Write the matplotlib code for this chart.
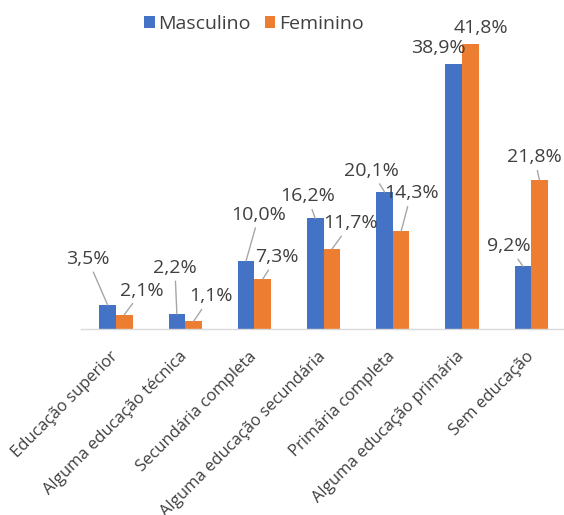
import matplotlib
matplotlib.use("Agg")
import matplotlib.pyplot as plt
import numpy as np

plt.rcParams['font.family'] = ['Open Sans', 'DejaVu Sans']

categories = [
    "Educação superior",
    "Alguma educação técnica",
    "Secundária completa",
    "Alguma educação secundária",
    "Primária completa",
    "Alguma educação primária",
    "Sem educação",
]
masculino = [3.5, 2.2, 10.0, 16.2, 20.1, 38.9, 9.2]
feminino = [2.1, 1.1, 7.3, 11.7, 14.3, 41.8, 21.8]
series_names = ["Masculino", "Feminino"]

# label placement (pixel offsets from the top of each bar) and leader-line flags
masc_offsets = [(-20, 46), (-2, 46), (13, 46), (-8, 22), (-13, 21), (-15, 16), (-14, 20)]
fem_offsets = [(18, 24), (17, 25), (14, 22), (19, 26), (10, 38), (11, 16), (-5, 23)]
masc_leader = [True, True, True, True, True, False, True]
fem_leader = [True, True, True, True, True, False, True]

BLUE = "#4472C4"
ORANGE = "#ED7D31"

fig = plt.figure(figsize=(5.64, 5.15), dpi=100)
ax = fig.add_axes([0.1443, 0.3612, 0.8589, 0.596])

x = np.arange(len(categories))
w = 0.24
b1 = ax.bar(x - w / 2, masculino, width=w, color=BLUE, label=series_names[0])
b2 = ax.bar(x + w / 2, feminino, width=w, color=ORANGE, label=series_names[1])

ax.set_xlim(-0.5, len(categories) - 0.5)
ax.set_ylim(0, 45)

for s in ["top", "right", "left"]:
    ax.spines[s].set_visible(False)
ax.spines["bottom"].set_color("#D9D9D9")
ax.spines["bottom"].set_linewidth(1.0)
ax.set_yticks([])
ax.set_xticks(x)
ax.set_xticklabels(categories, rotation=45, ha="right", va="center",
                   rotation_mode="anchor", fontsize=12, color="#404040")
ax.tick_params(axis="x", length=0, pad=18)


def fmt(v):
    return f"{v:.1f}%".replace(".", ",")


def label_bars(xs, vals, offsets, leaders):
    for xi, v, (dx, dy), lead in zip(xs, vals, offsets, leaders):
        arrow = dict(arrowstyle="-", color="#A6A6A6", lw=1.0,
                     shrinkA=1, shrinkB=0) if lead else None
        ax.annotate(fmt(v), xy=(xi, v), xytext=(dx, dy),
                    textcoords="offset pixels", ha="center", va="center",
                    fontsize=14, color="#404040", arrowprops=arrow,
                    annotation_clip=False)


label_bars(x - w / 2, masculino, masc_offsets, masc_leader)
label_bars(x + w / 2, feminino, fem_offsets, fem_leader)

fig.legend(handles=[b1, b2], loc="center", bbox_to_anchor=(254 / 564, 1 - 24 / 515),
           ncol=2, frameon=False, fontsize=14, handlelength=0.55, handleheight=0.55,
           handletextpad=0.2, columnspacing=0.7, labelcolor="#404040")

fig.savefig("out.png", dpi=100)
